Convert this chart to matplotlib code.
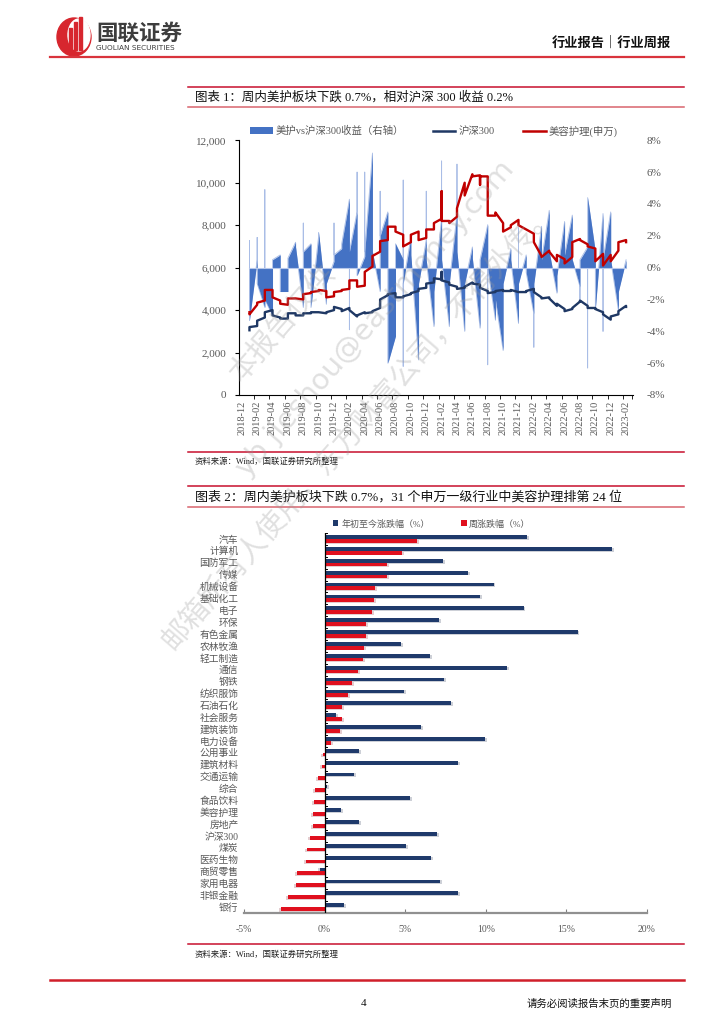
import numpy as np
import matplotlib
matplotlib.use('Agg')
import matplotlib.pyplot as plt
from matplotlib.patches import Rectangle, Circle, Ellipse, Patch
from matplotlib.lines import Line2D
from matplotlib.ticker import FuncFormatter

plt.rcParams['font.family'] = ['Liberation Serif', 'Noto Sans CJK SC', 'DejaVu Sans']
plt.rcParams['axes.unicode_minus'] = False

# ---------------- data : chart 1 ----------------
months = ['2019-01', '2019-02', '2019-03', '2019-04', '2019-05', '2019-06', '2019-07', '2019-08', '2019-09', '2019-10',
          '2019-11', '2019-12', '2020-01', '2020-02', '2020-03', '2020-04', '2020-05', '2020-06', '2020-07', '2020-08',
          '2020-09', '2020-10', '2020-11', '2020-12', '2021-01', '2021-02', '2021-03', '2021-04', '2021-05', '2021-06',
          '2021-07', '2021-08', '2021-09', '2021-10', '2021-11', '2021-12', '2022-01', '2022-02', '2022-03', '2022-04',
          '2022-05', '2022-06', '2022-07', '2022-08', '2022-09', '2022-10', '2022-11', '2022-12', '2023-01', '2023-02']

beauty_index = [[3900, 3800], [4250, 4350], [4450, 4950], [4950, 4600], [4450, 4300], [4250, 4550], [4550, 4550],
                [4500, 4750], [4800, 4850], [4900, 4950], [4900, 4600], [4650, 4850], [4900, 4950], [5000, 5400],
                [5400, 5100], [5150, 5800], [6050, 6550], [6750, 7250], [7300, 7930], [7930, 7700], [7550, 7000],
                [7200, 7550], [7700, 7300], [7400, 7800], [7800, 8100], [8300, 9600, 8200], [8200, 8100],
                [8400, 8800], [10000, 9400], [10400, 10300], [10350, 9900, 10300], [10300, 8450], [8450, 8600],
                [8100, 7700], [7900, 8000], [8250, 8000], [7800, 7800], [7600, 7200], [6550, 6500], [6800, 6750],
                [6300, 6600], [6400, 6200], [6500, 7200], [7350, 7300], [7100, 7000], [6900, 6300], [6650, 6100],
                [6600, 6300], [6800, 7200], [7300, 7200]]

hs300_index = [[3050, 3200], [3250, 3500], [3650, 3900], [4000, 3750], [3650, 3600], [3600, 3850], [3850, 3750],
               [3750, 3850], [3850, 3900], [3900, 3900], [3850, 3900], [4000, 4150], [4050, 3950], [4100, 4000],
               [3700, 3750], [3900, 3850], [3900, 3950], [4100, 4500], [4700, 4750], [4800, 4600], [4600, 4650],
               [4750, 4800], [4900, 5000], [5050, 5250], [5300, 5500], [5450, 5800, 5400], [5300, 5200],
               [5100, 5000], [5050, 5100], [5300, 5250], [5200, 5050], [4900, 4800], [4850, 4900], [4950, 4900],
               [4900, 4950], [4850, 4850], [4850, 4900], [5000, 4850], [4600, 4550], [4600, 4550], [4200, 4300],
               [4050, 3950], [4050, 4100], [4400, 4450], [4200, 4100], [4100, 4050], [3900, 3800], [3550, 3700],
               [3800, 3950], [4200, 4150]]

rel_return = [[-3.3, 1.7, -3.3], [0.5, 1.9, -1.0], [-2.5, 4.9, -2.0], [-3.0, 0.5], [0.8, -1.5], [-1.5, 0.6],
              [1.6, 1.3], [-2.5, 2.8, 1.0], [1.5, -2.5], [2.0, 2.2], [-2.3, -1.0], [0.4, 2.8, 0.8], [1.2, 1.5],
              [4.3, -3.9, 1.0], [3.5, 6.0, -0.5], [0.7, 6.0, 1.0], [7.2, 1.0], [-1.5, 4.8, 2.0], [3.5, -6.0],
              [-4.3, 1.5], [0.5, 5.5, -6.2, -1.0], [1.9, 0.8], [-5.8, -1.0], [1.7, 4.8, 0.5], [-3.7, -1.5],
              [3.1, 6.7, 0.5], [-3.7, -1.0], [3.4, 6.5, 1.0], [-4.0, -1.0], [1.3, 0.6], [-3.8, 0.5],
              [2.7, -6.1, 0.0], [-3.3, -2.0], [-5.2, -1.0], [1.2, 0.5], [-3.5, 2.5, -1.0], [0.8, -0.3],
              [-2.9, -5.0, -1.0], [2.6, 0.5], [3.6, 1.0], [-1.6, -0.5], [2.9, 0.8], [3.3, 0.5], [-1.2, -2.0, 0.5],
              [1.3, -6.3, 4.4], [1.0, -2.6], [3.4, -4.0, 0.5], [3.5, 0.5], [-2.7, -1.5], [0.5, 0.5]]

tick_months = ['2018-12', '2019-02', '2019-04', '2019-06', '2019-08', '2019-10', '2019-12', '2020-02', '2020-04',
               '2020-06', '2020-08', '2020-10', '2020-12', '2021-02', '2021-04', '2021-06', '2021-08', '2021-10',
               '2021-12', '2022-02', '2022-04', '2022-06', '2022-08', '2022-10', '2022-12', '2023-02']

legend1 = ['美护vs沪深300收益（右轴）', '沪深300', '美容护理(申万)']

# ---------------- data : chart 2 ----------------
industries = ['汽车', '计算机', '国防军工', '传媒', '机械设备', '基础化工', '电子', '环保', '有色金属', '农林牧渔',
              '轻工制造', '通信', '钢铁', '纺织服饰', '石油石化', '社会服务', '建筑装饰', '电力设备', '公用事业',
              '建筑材料', '交通运输', '综合', '食品饮料', '美容护理', '房地产', '沪深300', '煤炭', '医药生物',
              '商贸零售', '家用电器', '非银金融', '银行']
ytd_change = [12.57, 17.85, 7.37, 8.90, 10.48, 9.67, 12.34, 7.10, 15.69, 4.72, 6.56, 11.33, 7.39, 4.91, 7.85,
              0.72, 5.98, 9.94, 2.11, 8.30, 1.84, 0.14, 5.28, 1.01, 2.15, 6.98, 5.03, 6.58, -0.29, 7.16, 8.30, 1.20]
week_change = [5.71, 4.80, 3.87, 3.85, 3.11, 3.08, 2.92, 2.57, 2.57, 2.46, 2.36, 2.07, 1.70, 1.45, 1.10, 1.08,
               0.93, 0.41, -0.08, -0.19, -0.39, -0.62, -0.66, -0.70, -0.72, -0.93, -1.08, -1.14, -1.72, -1.76,
               -2.26, -2.69]
legend2 = ['年初至今涨跌幅（%）', '周涨跌幅（%）']

# ---------------- figure ----------------
W, H = 724, 1024
fig = plt.figure(figsize=(W / 100, H / 100), dpi=100)
fig.patch.set_facecolor('white')


def P(x, y):
    return (x / W, 1 - y / H)


def add_ax(x0, y0, x1, y1):
    return fig.add_axes([x0 / W, 1 - y1 / H, (x1 - x0) / W, (y1 - y0) / H])


def hline(y, x0, x1, color, lw):
    fig.add_artist(Line2D([x0 / W, x1 / W], [1 - y / H, 1 - y / H], color=color, lw=lw,
                          transform=fig.transFigure))


GRAY = '#595959'
CJK = ['Noto Sans CJK SC', 'DejaVu Sans']
MIX = ['Liberation Serif', 'Noto Sans CJK SC', 'DejaVu Sans']

# ---- header ----
lax = add_ax(50, 14, 190, 58)
lax.set_xlim(0, 140)
lax.set_ylim(44, 0)
lax.axis('off')
lax.add_patch(Ellipse((24, 23), 34, 38, color='#D7262E'))
lax.add_patch(Ellipse((29, 21), 22, 32, color='white'))
for bx, bt in [(19, 14), (24, 8), (29, 3)]:
    lax.add_patch(Rectangle((bx, bt), 3.2, 36 - bt, color='#D7262E'))
lax.text(46, 19, '国联证券', fontsize=15.5, fontweight='bold', color='#3d3d3d', va='center', ha='left',
         family=CJK)
lax.text(46.5, 33.5, 'GUOLIAN SECURITIES', fontsize=5.3, color='#3d3d3d', va='center', ha='left',
         family=['DejaVu Sans'])

fig.text(*P(671, 43), '行业报告｜行业周报', fontsize=9.5, fontweight='bold', ha='right', va='center',
         family=CJK, color='#111111')
hline(57, 50, 684, '#D9343C', 1.6)

# ---- chart 1 title ----
hline(87, 188, 684, '#C8102E', 1.1)
hline(107, 188, 684, '#D8646E', 1.1)
fig.text(*P(195, 97), '图表 1：周内美护板块下跌 0.7%，相对沪深 300 收益 0.2%', fontsize=9, ha='left',
         va='center', family=MIX, color='#111111')

# ---- chart 1 ----
def month_idx(s):
    y, m = s.split('-')
    return (int(y) - 2018) * 12 + int(m) - 12


def expand(series):
    xs, ys = [], []
    for mo, vals in zip(months, series):
        for v in vals:
            xs.append(month_idx(mo))
            ys.append(v)
    return np.array(xs, float), np.array(ys, float)


ax1 = add_ax(238.7, 140.3, 633, 395)
ax1r = ax1.twinx()
ax1.set_zorder(ax1r.get_zorder() + 1)
ax1.patch.set_visible(False)

rx, ry = expand(rel_return)
ax1r.fill_between(rx, 0, ry, color='#4472C4', lw=0, zorder=2)
ax1r.plot(rx, ry, color='#A9BDE6', lw=0.6, zorder=1)
ax1r.plot([rx[0], rx[-1]], [0, 0], color='#B7C8EA', lw=0.8, zorder=3)
ax1r.set_ylim(-8, 8)
ax1r.set_yticks(np.arange(-8, 9, 2))
ax1r.yaxis.set_major_formatter(FuncFormatter(lambda v, p: f'{v:.0f}%'))
ax1r.tick_params(axis='y', length=0, labelsize=8, labelcolor=GRAY, pad=10)
for s in ax1r.spines.values():
    s.set_visible(False)

hx, hy = expand(hs300_index)
bx_, by_ = expand(beauty_index)
ax1.plot(hx, hy, color='#1F3864', lw=1.7, zorder=4)
ax1.plot(bx_, by_, color='#C00000', lw=1.7, zorder=5)
ax1.set_ylim(0, 12000)
ax1.set_yticks(np.arange(0, 12001, 2000))
ax1.yaxis.set_major_formatter(FuncFormatter(lambda v, p: f'{v:,.0f}'))
ax1.set_xlim(-0.4, 50.9)
tpos = [month_idx(t) for t in tick_months]
ax1.set_xticks(tpos)
ax1.set_xticklabels(tick_months, rotation=90, fontsize=7.5, color=GRAY)
ax1.set_xticks([t - 0.4 for t in tpos[1:]] + [50.8], minor=True)
ax1.tick_params(axis='x', which='major', length=0, pad=4)
ax1.tick_params(axis='x', which='minor', length=3, direction='out', color='black')
ax1.tick_params(axis='y', length=3, direction='out', labelsize=8, labelcolor=GRAY, pad=6)
for k in ['top', 'right']:
    ax1.spines[k].set_visible(False)
ax1.spines['left'].set_color('black')
ax1.spines['bottom'].set_color('black')
ax1.spines['left'].set_linewidth(0.8)
ax1.spines['bottom'].set_linewidth(0.8)

h1 = [Patch(facecolor='#4472C4', edgecolor='none'),
      Line2D([], [], color='#1F3864', lw=1.8),
      Line2D([], [], color='#C00000', lw=1.8)]
fig.legend(h1, legend1, loc='center left', bbox_to_anchor=P(250, 131), ncol=3, frameon=False,
           prop={'family': MIX, 'size': 7.5}, labelcolor=GRAY, handlelength=2.2, handleheight=0.6,
           columnspacing=2.7, handletextpad=0.3, borderaxespad=0, borderpad=0)

hline(452, 188, 684, '#C8102E', 1.1)
fig.text(*P(195, 462), '资料来源：Wind，国联证券研究所整理', fontsize=6, ha='left', va='center', family=MIX,
         color='#222222')

# ---- chart 2 title ----
hline(486, 188, 684, '#C8102E', 1.1)
hline(507, 188, 684, '#D8646E', 1.1)
fig.text(*P(195, 497), '图表 2：周内美护板块下跌 0.7%，31 个申万一级行业中美容护理排第 24 位', fontsize=9.4,
         ha='left', va='center', family=MIX, color='#111111')

# ---- chart 2 ----
ax2 = add_ax(244, 533, 647, 913)
yy = np.arange(len(industries))
bh = 0.32
sh_y = 0.07
sh_x = 0.12
ax2.barh(yy - bh / 2 + sh_y, [v + np.sign(v) * sh_x for v in ytd_change], height=bh, color='#B8BCC6',
         alpha=0.7, zorder=2, lw=0)
ax2.barh(yy + bh / 2 + sh_y, [v + np.sign(v) * sh_x for v in week_change], height=bh, color='#D9B8BC',
         alpha=0.7, zorder=2, lw=0)
ax2.barh(yy - bh / 2, ytd_change, height=bh, color='#1F3A6B', zorder=3)
ax2.barh(yy + bh / 2, week_change, height=bh, color='#E0101E', zorder=3)
ax2.set_xlim(-5, 20)
ax2.set_ylim(len(industries) - 0.5, -0.5)
ax2.set_yticks(yy)
ax2.set_yticklabels(industries, fontsize=7, color=GRAY, family=MIX)
ax2.tick_params(axis='y', length=0, pad=4)
ax2.set_xticks(np.arange(-5, 21, 5))
ax2.xaxis.set_major_formatter(FuncFormatter(lambda v, p: f'{v:.0f}%'))
ax2.tick_params(axis='x', length=3, direction='in', color='#808080', labelsize=7, labelcolor=GRAY, pad=9)
for k in ['top', 'right', 'left']:
    ax2.spines[k].set_visible(False)
ax2.spines['bottom'].set_color('#909090')
ax2.spines['bottom'].set_linewidth(1.6)
ax2.axvline(0, color='black', lw=0.9, zorder=4)
for b in np.arange(-0.5, len(industries), 1.0):
    ax2.plot([0, 0.17], [b, b], color='black', lw=0.7, zorder=4)

h2 = [Patch(facecolor='#1F3A6B'), Patch(facecolor='#E0101E')]
fig.legend(h2, legend2, loc='center left', bbox_to_anchor=P(333, 524), ncol=2, frameon=False,
           prop={'family': MIX, 'size': 6.5}, labelcolor=GRAY, handlelength=0.6, handleheight=0.6,
           columnspacing=3.5, handletextpad=0.3, borderaxespad=0, borderpad=0)

hline(944, 188, 684, '#C8102E', 1.1)
fig.text(*P(195, 955), '资料来源：Wind，国联证券研究所整理', fontsize=6, ha='left', va='center', family=MIX,
         color='#222222')

# ---- footer ----
hline(980, 50, 684, '#D01F2A', 1.8)
fig.text(*P(364, 1004), '4', fontsize=8, ha='center', va='center', family=MIX, color='#111111')
fig.text(*P(672, 1004), '请务必阅读报告末页的重要声明', fontsize=7.5, ha='right', va='center', family=MIX,
         color='#111111')

# ---- watermark ----
wm = [((246, 388), '本报告仅供'),
      ((252, 482), 'yb jieshou@eastmoney.com'),
      ((178, 655), '邮箱所有人使用，东方财富公司，不得外传。')]
for (x, y), t in wm:
    fig.text(*P(x, y), t, fontsize=21, rotation=49, rotation_mode='anchor', ha='left', va='bottom',
             color='#9a9a9a', alpha=0.3, family=['DejaVu Sans', 'Noto Sans CJK SC'], zorder=20)

fig.savefig('out.png', dpi=100, facecolor='white')
